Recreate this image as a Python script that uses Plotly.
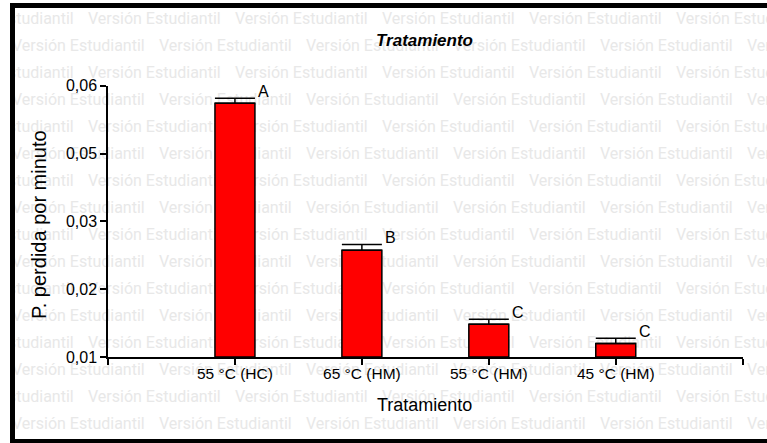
import plotly.graph_objects as go

# ---- data ----
categories = ["55 °C (HC)", "65 °C (HM)", "55 °C (HM)", "45 °C (HM)"]
values = [0.05675, 0.02969, 0.01603, 0.01247]
errors = [0.00093, 0.00105, 0.00092, 0.00098]
letters = ["A", "B", "C", "C"]
ytick_vals = [0.01, 0.0225, 0.035, 0.0475, 0.06]
ytick_text = ["0,01", "0,02", "0,03", "0,05", "0,06"]

W, H = 767, 443


def px(x):
    return x / W


def py(y):
    return 1 - y / H


fig = go.Figure()

# ---- watermark (decoration), clipped to frame interior ----
wm_x, wm_y, wm_t = [], [], []
for k in range(16):
    yc = 20 + 27 * k
    start = 88 if k % 2 == 0 else 12
    x = start - 147
    while x < W + 10:
        wm_x.append(x)
        wm_y.append(yc)
        wm_t.append("Versión Estudiantil")
        x += 147
fig.add_trace(go.Scatter(
    x=wm_x, y=wm_y, text=wm_t, mode="text", textposition="middle right",
    textfont=dict(family="Roboto, Liberation Sans, sans-serif", size=16, color="#e8e8e8"),
    cliponaxis=True, hoverinfo="skip", showlegend=False,
    xaxis="x", yaxis="y",
))

# ---- bars ----
xpos = list(range(len(categories)))
fig.add_trace(go.Bar(
    x=xpos, y=[v - 0.01 for v in values], base=0.01, width=0.315,
    marker=dict(color="#ff0000", line=dict(color="black", width=1.5)),
    error_y=dict(type="data", symmetric=False, array=errors,
                 arrayminus=[0] * len(errors), color="black", thickness=1.5, width=20),
    showlegend=False, hoverinfo="skip",
    xaxis="x2", yaxis="y2",
))

ann = []
for i, (v, e, l) in enumerate(zip(values, errors, letters)):
    ann.append(dict(x=i + 0.1575, y=v + e, xref="x2", yref="y2", text=l,
                    showarrow=False, xanchor="left", yanchor="bottom",
                    xshift=1, yshift=-4,
                    font=dict(family="Liberation Sans, Arial, sans-serif", size=16, color="black")))

ann.append(dict(x=px(425), y=py(41), xref="paper", yref="paper", text="<b><i>Tratamiento</i></b>",
                showarrow=False, xanchor="center", yanchor="middle",
                font=dict(family="Liberation Sans, Arial, sans-serif", size=17, color="black")))
ann.append(dict(x=px(424), y=py(405), xref="paper", yref="paper", text="Tratamiento",
                showarrow=False, xanchor="center", yanchor="middle",
                font=dict(family="Liberation Sans, Arial, sans-serif", size=18, color="black")))
ann.append(dict(x=px(39), y=py(225), xref="paper", yref="paper", text="P. perdida por minuto",
                showarrow=False, xanchor="center", yanchor="middle", textangle=-90,
                font=dict(family="Liberation Sans, Arial, sans-serif", size=20, color="black")))

frame = dict(color="black", width=5)
fig.update_layout(
    width=W, height=H,
    margin=dict(l=0, r=0, t=0, b=0, pad=0, autoexpand=False),
    paper_bgcolor="white", plot_bgcolor="rgba(0,0,0,0)",
    font=dict(family="Liberation Sans, Arial, sans-serif", color="black"),
    xaxis=dict(domain=[px(15), 1], range=[15, W], visible=False, fixedrange=True, automargin=False),
    yaxis=dict(domain=[py(439), py(8)], range=[439, 8], visible=False, fixedrange=True, automargin=False),
    xaxis2=dict(domain=[px(108), px(742.7)], range=[-1, 4], anchor="y2", automargin=False,
                tickvals=[-1] + xpos + [4], ticktext=[""] + categories + [""],
                ticks="outside", ticklen=6, tickwidth=1.5, tickcolor="black",
                ticklabelstandoff=-4,
                showline=True, linecolor="black", linewidth=1.5,
                showgrid=False, zeroline=False,
                tickfont=dict(size=15.5, color="black")),
    yaxis2=dict(domain=[py(357), py(85.7)], range=[0.01, 0.06], anchor="x2", automargin=False,
                tickvals=ytick_vals, ticktext=ytick_text,
                ticks="outside", ticklen=6, tickwidth=1.5, tickcolor="black",
                showline=True, linecolor="black", linewidth=1.5,
                showgrid=False, zeroline=False,
                tickfont=dict(size=16, color="black")),
    annotations=ann,
    shapes=[
        dict(type="line", xref="paper", yref="paper", x0=px(10), x1=1, y0=py(5.5), y1=py(5.5),
             line=frame, layer="above"),
        dict(type="line", xref="paper", yref="paper", x0=px(12.5), x1=px(12.5), y0=py(3), y1=py(443),
             line=frame, layer="above"),
        dict(type="line", xref="paper", yref="paper", x0=px(10), x1=1, y0=py(441.5), y1=py(441.5),
             line=frame, layer="above"),
    ],
)

fig.write_html("out.html")
